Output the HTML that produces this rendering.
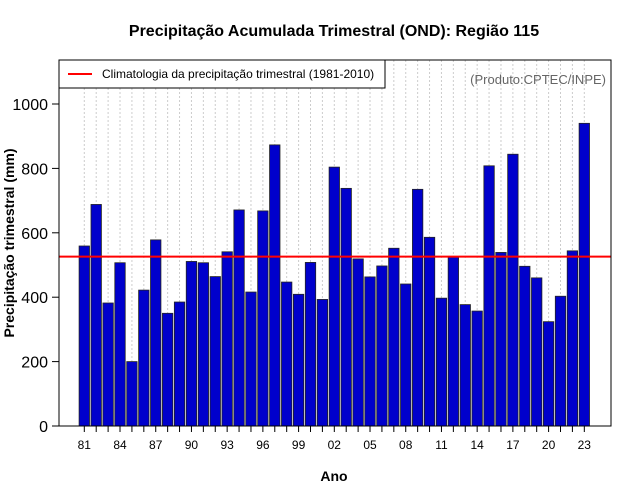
<!DOCTYPE html>
<html><head><meta charset="utf-8"><style>
body{margin:0;background:#fff}
svg{display:block;font-family:"Liberation Sans",sans-serif}
</style></head><body>
<svg id="chart" width="640" height="500">
<text x="334" y="36" text-anchor="middle" font-size="16" font-weight="bold">Precipitação Acumulada Trimestral (OND): Região 115</text>
<text x="334" y="481" text-anchor="middle" font-size="14" font-weight="bold">Ano</text>
<text transform="translate(14,243) rotate(-90)" text-anchor="middle" font-size="14" font-weight="bold">Precipitação trimestral (mm)</text>
<g id="grid"></g><g id="bars"></g><g id="axes"></g>
<rect x="59" y="60" width="552" height="366" fill="none" stroke="#000"/>
<g>
<rect x="59" y="60" width="326" height="28" fill="#fff" stroke="#000"/>
<line x1="68" y1="74" x2="92" y2="74" stroke="#f00" stroke-width="2"/>
<text x="102" y="78" font-size="12">Climatologia da precipitação trimestral (1981-2010)</text>
</g>
<text x="606" y="84" text-anchor="end" font-size="13" fill="#666">(Produto:CPTEC/INPE)</text>
</svg>
<script>
const years=[];for(let y=1981;y<=2023;y++)years.push(y);
const values=[559,688,382,507,200,422,578,350,385,511,507,464,541,671,416,668,873,447,409,508,393,804,738,519,463,497,552,441,735,586,397,526,377,357,808,539,844,496,460,324,403,544,940];
const climatology=[526];
const yTicks=[0,200,400,600,800,1000];
const NS="http://www.w3.org/2000/svg";
const x0=84.3,step=11.905,bw=10.4;
const xs=i=>x0+i*step;
const ys=v=>426-v*0.322;
function mk(t,a,p){const e=document.createElementNS(NS,t);for(const k in a)e.setAttribute(k,a[k]);p.appendChild(e);return e;}
const grid=document.getElementById('grid'),bars=document.getElementById('bars'),axes=document.getElementById('axes');
years.forEach((y,i)=>{
 const g=mk('line',{x1:xs(i),x2:xs(i),y1:60,y2:426,stroke:'#ccc','stroke-dasharray':'2,2'},grid);
 
 
 const b=mk('rect',{x:xs(i)-bw/2,y:ys(values[i]),width:bw,height:426-ys(values[i]),fill:'#0000cc',stroke:'#222','stroke-width':0.8},bars);
 
 
 const t=mk('line',{x1:xs(i),x2:xs(i),y1:426,y2:432,stroke:'#000'},axes);
 
 
 if(i%3===0){const l=mk('text',{x:xs(i),y:449,'text-anchor':'middle','font-size':12},axes);l.textContent=String(y%100).padStart(2,'0');
 
 }
});
const cl=mk('line',{x1:59,x2:611,y1:ys(climatology[0]),y2:ys(climatology[0]),stroke:'#f00','stroke-width':2},bars);


yTicks.forEach(v=>{
 const t=mk('line',{x1:52,x2:59,y1:ys(v),y2:ys(v),stroke:'#000'},axes);
 
 
 const l=mk('text',{x:48,y:ys(v)+6,'text-anchor':'end','font-size':16},axes);l.textContent=v;
 
 
});
</script>
</body></html>
